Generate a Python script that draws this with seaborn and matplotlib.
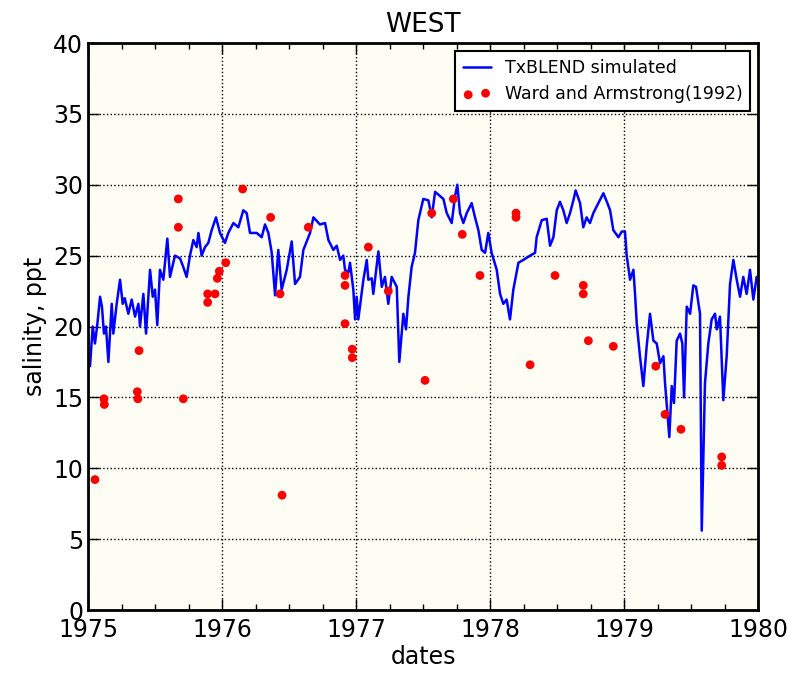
import numpy as np
import pandas as pd
import seaborn as sns
import matplotlib
matplotlib.use("Agg")
import matplotlib.pyplot as plt
from matplotlib.ticker import MultipleLocator

# TxBLEND simulated salinity (decimal years, ppt)
sim_years = [
    1975.015, 1975.035, 1975.052, 1975.070, 1975.090, 1975.104, 1975.119, 1975.134,
    1975.152, 1975.177, 1975.189, 1975.214, 1975.239, 1975.259, 1975.274, 1975.301,
    1975.326, 1975.351, 1975.376, 1975.388, 1975.413, 1975.433, 1975.463, 1975.483,
    1975.500, 1975.517, 1975.537, 1975.562, 1975.592, 1975.612, 1975.649, 1975.687,
    1975.711, 1975.736, 1975.761, 1975.786, 1975.811, 1975.824, 1975.848, 1975.873,
    1975.898, 1975.923, 1975.955, 1975.985, 1976.022, 1976.047, 1976.085, 1976.122,
    1976.159, 1976.184, 1976.209, 1976.259, 1976.296, 1976.321, 1976.346, 1976.371,
    1976.396, 1976.420, 1976.445, 1976.483, 1976.520, 1976.545, 1976.582, 1976.607,
    1976.657, 1976.682, 1976.731, 1976.769, 1976.794, 1976.831, 1976.856, 1976.881,
    1976.905, 1976.918, 1976.943, 1976.955, 1976.980, 1976.993, 1977.005, 1977.017,
    1977.055, 1977.080, 1977.092, 1977.117, 1977.129, 1977.167, 1977.192, 1977.216,
    1977.241, 1977.266, 1977.304, 1977.323, 1977.353, 1977.373, 1977.391, 1977.415,
    1977.440, 1977.465, 1977.502, 1977.540, 1977.565, 1977.590, 1977.627, 1977.652,
    1977.677, 1977.714, 1977.739, 1977.756, 1977.776, 1977.801, 1977.826, 1977.863,
    1977.888, 1977.913, 1977.938, 1977.963, 1977.987, 1978.012, 1978.050, 1978.075,
    1978.099, 1978.124, 1978.149, 1978.174, 1978.212, 1978.249, 1978.299, 1978.336,
    1978.348, 1978.386, 1978.423, 1978.448, 1978.473, 1978.498, 1978.522, 1978.547,
    1978.572, 1978.597, 1978.622, 1978.639, 1978.672, 1978.696, 1978.721, 1978.746,
    1978.771, 1978.808, 1978.846, 1978.876, 1978.896, 1978.920, 1978.958, 1978.983,
    1979.007, 1979.020, 1979.045, 1979.070, 1979.082, 1979.095, 1979.119, 1979.144,
    1979.169, 1979.194, 1979.219, 1979.244, 1979.269, 1979.294, 1979.306, 1979.318,
    1979.338, 1979.356, 1979.373, 1979.393, 1979.418, 1979.435, 1979.448, 1979.468,
    1979.493, 1979.517, 1979.537, 1979.567, 1979.580, 1979.604, 1979.629, 1979.654,
    1979.679, 1979.692, 1979.716, 1979.741, 1979.766, 1979.791, 1979.816, 1979.841,
    1979.866, 1979.890, 1979.915, 1979.940, 1979.965, 1979.990, 1980.000,
]
sim_salinity = [
    17.2, 20.0, 18.8, 20.2, 22.1, 21.4, 19.5, 20.0,
    17.5, 21.6, 19.5, 21.6, 23.3, 21.6, 22.0, 20.9,
    21.9, 20.7, 21.6, 20.0, 22.3, 19.5, 24.0, 22.1,
    22.6, 20.1, 24.0, 23.3, 26.2, 23.5, 25.0, 24.8,
    24.2, 23.5, 25.0, 26.1, 25.6, 26.6, 25.0, 25.6,
    25.9, 26.8, 27.7, 26.6, 25.9, 26.6, 27.3, 27.0,
    28.2, 28.0, 26.6, 26.6, 26.3, 27.2, 26.6, 25.2,
    22.2, 25.4, 22.6, 24.0, 26.0, 23.0, 23.5, 25.4,
    26.6, 27.7, 27.2, 27.3, 26.1, 25.4, 25.7, 24.7,
    25.0, 24.0, 23.8, 24.5, 22.6, 20.5, 22.1, 20.5,
    23.3, 24.7, 23.3, 23.4, 22.3, 25.3, 22.8, 23.5,
    21.6, 23.5, 22.8, 17.5, 20.9, 19.8, 22.1, 24.2,
    25.2, 27.5, 29.0, 28.9, 27.7, 29.5, 29.2, 29.0,
    28.0, 27.3, 29.2, 30.0, 28.0, 27.3, 28.0, 28.7,
    27.7, 26.8, 25.4, 25.2, 26.6, 25.2, 24.0, 22.3,
    21.6, 21.9, 20.5, 22.6, 24.5, 24.7, 25.0, 25.2,
    26.3, 27.5, 27.6, 25.7, 26.3, 28.2, 28.8, 28.2,
    27.3, 28.0, 28.9, 29.6, 28.7, 27.0, 27.7, 27.3,
    28.0, 28.7, 29.4, 28.7, 28.2, 26.8, 26.3, 26.7,
    26.7, 25.0, 23.3, 24.0, 22.3, 20.2, 17.9, 15.8,
    18.6, 20.9, 19.0, 18.8, 17.4, 17.9, 16.0, 14.6,
    12.2, 15.8, 14.6, 19.0, 19.5, 18.8, 15.0, 21.4,
    20.9, 22.9, 22.8, 20.9, 5.6, 16.0, 18.8, 20.5,
    20.9, 19.8, 20.7, 14.8, 17.9, 23.0, 24.7, 23.3,
    22.1, 23.5, 22.3, 24.0, 21.9, 23.5, 23.3,
]

# Ward and Armstrong (1992) observations
obs_years = [
    1975.052, 1975.119, 1975.122, 1975.381, 1975.368, 1975.372, 1975.674, 1975.674,
    1975.711, 1975.893, 1975.893, 1975.948, 1975.965, 1975.980, 1976.028, 1976.154,
    1976.363, 1976.433, 1976.448, 1976.644, 1976.918, 1976.918, 1976.918, 1976.972,
    1976.972, 1977.092, 1977.241, 1977.515, 1977.565, 1977.726, 1977.793, 1977.925,
    1978.194, 1978.194, 1978.299, 1978.485, 1978.696, 1978.696, 1978.734, 1978.920,
    1979.237, 1979.306, 1979.425, 1979.729, 1979.729,
]
obs_salinity = [
    9.2, 14.9, 14.5, 18.3, 15.4, 14.9, 29.0, 27.0,
    14.9, 22.3, 21.7, 22.3, 23.4, 23.9, 24.5, 29.7,
    27.7, 22.3, 8.1, 27.0, 23.6, 22.9, 20.2, 18.4,
    17.8, 25.6, 22.5, 16.2, 28.0, 29.0, 26.5, 23.6,
    28.0, 27.7, 17.3, 23.6, 22.9, 22.3, 19.0, 18.6,
    17.2, 13.8, 12.75, 10.8, 10.2,
]

sim = pd.DataFrame({"year": sim_years, "salinity": sim_salinity})
obs = pd.DataFrame({"year": obs_years, "salinity": obs_salinity})

sns.set_style("ticks")
plt.rcParams["font.family"] = ["DejaVu Sans"]
plt.rcParams["text.color"] = "black"
plt.rcParams["axes.labelcolor"] = "black"
plt.rcParams["xtick.color"] = "black"
plt.rcParams["ytick.color"] = "black"

fig = plt.figure(figsize=(7.95, 6.73), dpi=100)
ax = fig.add_axes([0.1107, 0.0936, 0.8428, 0.8425])
ax.set_facecolor("#fdfdf3")

sns.lineplot(data=sim, x="year", y="salinity", ax=ax, color="#0000ff",
             linewidth=1.8, estimator=None, sort=False, label="TxBLEND simulated")
sns.scatterplot(data=obs, x="year", y="salinity", ax=ax, color="#ff0000",
                s=40, edgecolor="none", label="Ward and Armstrong(1992)", zorder=3)

ax.set_xlim(1975, 1980)
ax.set_ylim(0, 40)
ax.xaxis.set_major_locator(MultipleLocator(1))
ax.xaxis.set_minor_locator(MultipleLocator(0.25))
ax.yaxis.set_major_locator(MultipleLocator(5))
ax.set_xticklabels([str(int(v)) for v in ax.get_xticks()])
ax.tick_params(which="both", direction="in", top=True, right=True,
               color="black", labelcolor="black", labelsize=17)
ax.tick_params(which="major", length=8, width=1)
ax.tick_params(which="minor", length=4, width=1)
ax.tick_params(axis="x", pad=6)
for sp in ax.spines.values():
    sp.set_visible(True)
    sp.set_linewidth(2)
    sp.set_color("black")

ax.grid(True, which="major", linestyle=":", color="black", linewidth=1)

ax.set_title("WEST", fontsize=19, pad=8, color="black")
ax.set_xlabel("dates", fontsize=17, labelpad=2)
ax.set_ylabel("salinity, ppt", fontsize=17, labelpad=4)

leg = ax.legend(loc="upper right", fontsize=12.5, scatterpoints=2, fancybox=False,
                framealpha=1, edgecolor="black", handlelength=1.6,
                handletextpad=0.8, borderpad=0.45, borderaxespad=0.45)
leg.get_frame().set_linewidth(1.5)
for t in leg.get_texts():
    t.set_color("black")

fig.savefig("out.png", dpi=100)
